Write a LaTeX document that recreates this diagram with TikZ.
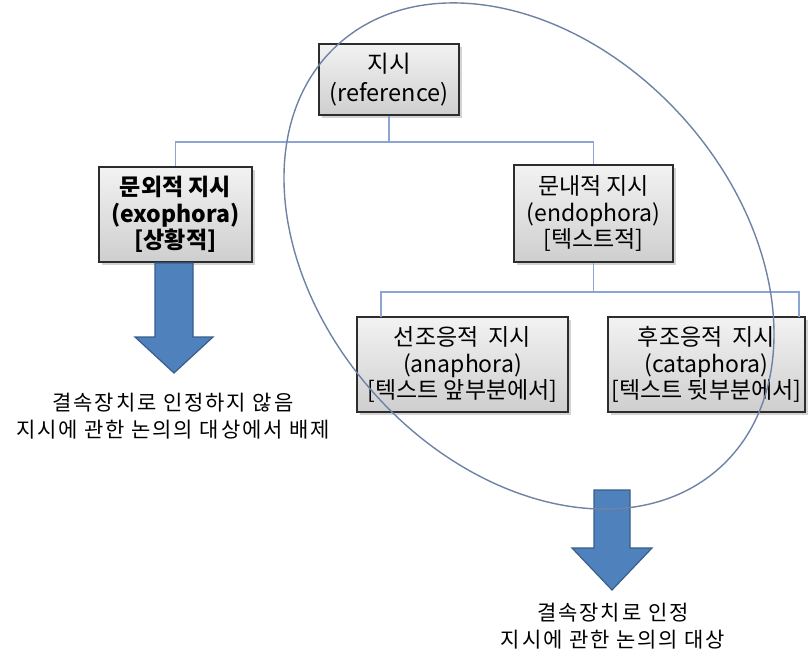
\documentclass[tikz,border=0pt]{standalone}
\usepackage{fontspec}
\setmainfont{Noto Sans CJK KR}
\newfontfamily\notefont[LetterSpace=9]{Noto Sans CJK KR}
\usetikzlibrary{shadows,calc}
\definecolor{boxline}{RGB}{45,45,45}
\definecolor{connc}{RGB}{140,165,210}
\definecolor{ellc}{RGB}{110,130,165}
\definecolor{arrfill}{RGB}{79,129,189}
\definecolor{arrline}{RGB}{56,93,138}
\tikzset{
 gbox/.style={draw=boxline, line width=1.2pt, top color=gray!10, bottom color=gray!38,
   drop shadow={shadow xshift=2.5pt, shadow yshift=-2.5pt, opacity=0.35},
   align=center, font=\fontsize{23}{26.5}\selectfont, inner sep=0pt},
 connline/.style={draw=connc, line width=1.6pt},
 bigarrow/.style={fill=arrfill, draw=arrline, line width=1.2pt, line join=miter},
 notetext/.style={align=center, font=\notefont\fontsize{21}{27}\selectfont, inner sep=0pt}
}
\begin{document}
\begin{tikzpicture}[x=1pt,y=1pt]
\useasboundingbox (0,0) rectangle (809,-653);
% boxes
\node[gbox, minimum width=140pt, minimum height=71pt, font=\fontsize{23.5}{29}\selectfont] (ref) at (389,-79.5) {지시\\(reference)};
\node[gbox, minimum width=153pt, minimum height=95pt, font=\fontsize{23}{26.5}\selectfont\bfseries] (exo) at (175.5,-214.5) {문외적 지시\\(exophora)\\{}[상황적]};
\node[gbox, minimum width=159pt, minimum height=97pt] (endo) at (593.5,-213.5) {문내적 지시\\(endophora)\\{}[텍스트적]};
\node[gbox, minimum width=211pt, minimum height=95pt] (ana) at (462.5,-364.5) {선조응적\ \ 지시\\(anaphora)\\{}[텍스트 앞부분에서]};
\node[gbox, minimum width=197pt, minimum height=95pt] (cata) at (706.5,-364.5) {후조응적\ \ 지시\\(cataphora)\\{}[텍스트 뒷부분에서]};
% connector junctions
\coordinate (j1) at (389,-142);
\coordinate (j2) at (593.5,-292);
\coordinate (anain) at (381,-317);
\coordinate (catain) at (799,-317);
\draw[connline] (ref.south) -- (j1) -| (exo.north);
\draw[connline] (j1) -| (endo.north);
\draw[connline] (endo.south) -- (j2) -| (anain);
\draw[connline] (j2) -| (catain);
% big arrows
\draw[bigarrow] (155,-263) -- (155,-337) -- (135,-337) -- (174,-373) -- (213,-337) -- (193,-337) -- (193,-263) -- cycle;
\draw[bigarrow] (594,-490) -- (594,-548) -- (572,-548) -- (612,-590) -- (652,-548) -- (630,-548) -- (630,-490) -- cycle;
% notes
\node[notetext] (note1) at (173,-416.5) {결속장치로 인정하지 않음\\지시에 관한 논의의 대상에서 배제};
\node[notetext] (note2) at (613,-626) {결속장치로 인정\\지시에 관한 논의의 대상};
% ellipse
\draw[draw=ellc, line width=1.4pt, rotate around={-48:(529,-256)}] (529,-256) ellipse (285pt and 207pt);
\end{tikzpicture}
\end{document}
